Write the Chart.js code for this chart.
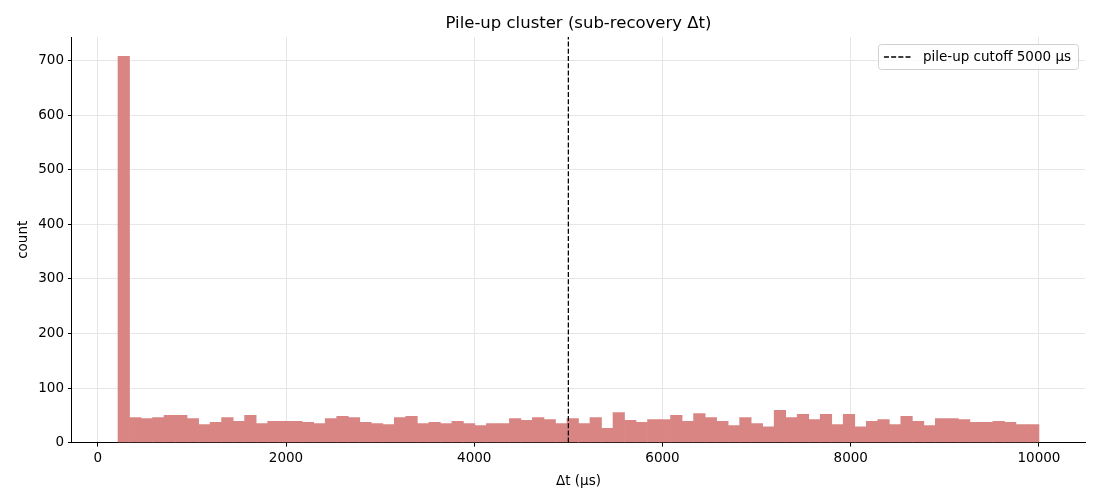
<!DOCTYPE html>
<html><head><meta charset="utf-8">
<script src="https://cdn.jsdelivr.net/npm/chart.js@4.4.1/dist/chart.umd.min.js"></script>
<style>body{margin:0;background:#fff}canvas{display:block}</style>
</head><body>
<canvas id="c" width="1100" height="500"></canvas>
<script>
// ===== data =====
const binStart = 215, binEnd = 10000;   // histogram edges, µs
const counts = [708,46,44,46,50,50,44,33,37,46,39,50,35,39,39,39,37,35,44,48,
                46,37,35,33,46,48,35,37,35,39,35,31,35,35,44,41,46,42,35,44,
                35,46,26,55,41,37,42,42,50,39,53,46,39,31,46,35,29,59,46,52,
                42,52,33,52,29,39,42,33,48,39,31,44,44,42,37,37,39,37,33,33];
const xTicks = [0,2000,4000,6000,8000,10000];
const yTicks = [0,100,200,300,400,500,600,700];
const cutoff = 5000;
const titleText = 'Pile-up cluster (sub-recovery Δt)';
const legendText = 'pile-up cutoff 5000 µs';

// ===== helpers =====
const FONT = '"DejaVu Sans", sans-serif';
const binW = (binEnd-binStart)/counts.length;
const bars = counts.map((c,i)=>({x: binStart+(i+0.5)*binW, y: c}));
const span = binEnd-binStart, yTop = Math.max(...counts)*1.05;

// title + legend drawn relative to the plot area (matplotlib style)
const decor = {
  id:'decor',
  afterDraw(chart){
    const {ctx, chartArea:a} = chart;
    ctx.save();
    ctx.fillStyle='#000'; ctx.font='16.5px '+FONT; ctx.textAlign='center'; ctx.textBaseline='middle';
    ctx.fillText(titleText,(a.left+a.right)/2,24);
    // legend box
    ctx.font='13.5px '+FONT;
    const tw=ctx.measureText(legendText).width, w=tw+52, h=25, x=a.right-7-w, y=a.top+7;
    ctx.beginPath(); ctx.roundRect(x+0.5,y+0.5,w,h,3);
    ctx.fillStyle='rgba(255,255,255,0.8)'; ctx.fill(); ctx.strokeStyle='#d0d0d0'; ctx.lineWidth=1; ctx.stroke();
    ctx.beginPath(); ctx.setLineDash([5,2.2]); ctx.strokeStyle='#000'; ctx.lineWidth=1.3;
    ctx.moveTo(x+6,y+h/2+0.5); ctx.lineTo(x+34,y+h/2+0.5); ctx.stroke(); ctx.setLineDash([]);
    ctx.fillStyle='#000'; ctx.textAlign='left'; ctx.fillText(legendText,x+45,y+h/2+1);
    ctx.restore();
  }
};

new Chart(document.getElementById('c'),{
  data:{datasets:[
    {type:'bar', data:bars, backgroundColor:'#d88583', borderWidth:0, barPercentage:1, categoryPercentage:1, order:2},
    {type:'line', data:[{x:cutoff,y:0},{x:cutoff,y:yTop}], borderColor:'#000', borderWidth:1.3, borderDash:[5,2.2],
     pointRadius:0, fill:false, order:1}
  ]},
  options:{
    responsive:false, devicePixelRatio:1, animation:false,
    layout:{padding:{left:15,right:15,top:37,bottom:10}},
    plugins:{legend:{display:false}, tooltip:{enabled:false}},
    scales:{
      x:{type:'linear', offset:false, min:binStart-0.05*span, max:binEnd+0.05*span,
         afterBuildTicks:s=>{s.ticks=xTicks.map(v=>({value:v}));},
         ticks:{font:{family:FONT,size:13.5}, color:'#000', padding:4, maxRotation:0, callback:v=>String(v)},
         grid:{offset:false, color:'#e6e6e6', tickColor:'#000', tickLength:4},
         border:{color:'#000', width:1},
         title:{display:true, text:'Δt (µs)', font:{family:FONT,size:13.5}, color:'#000', padding:{top:3,bottom:0}}},
      y:{type:'linear', min:0, max:yTop,
         afterBuildTicks:s=>{s.ticks=yTicks.map(v=>({value:v}));},
         ticks:{font:{family:FONT,size:13.5}, color:'#000', padding:4, callback:v=>String(v)},
         grid:{color:'#e6e6e6', tickColor:'#000', tickLength:4},
         border:{color:'#000', width:1},
         title:{display:true, text:'count', font:{family:FONT,size:13.5}, color:'#000', padding:{top:0,bottom:3}}}
    }
  },
  plugins:[decor]
});
</script>
</body></html>
